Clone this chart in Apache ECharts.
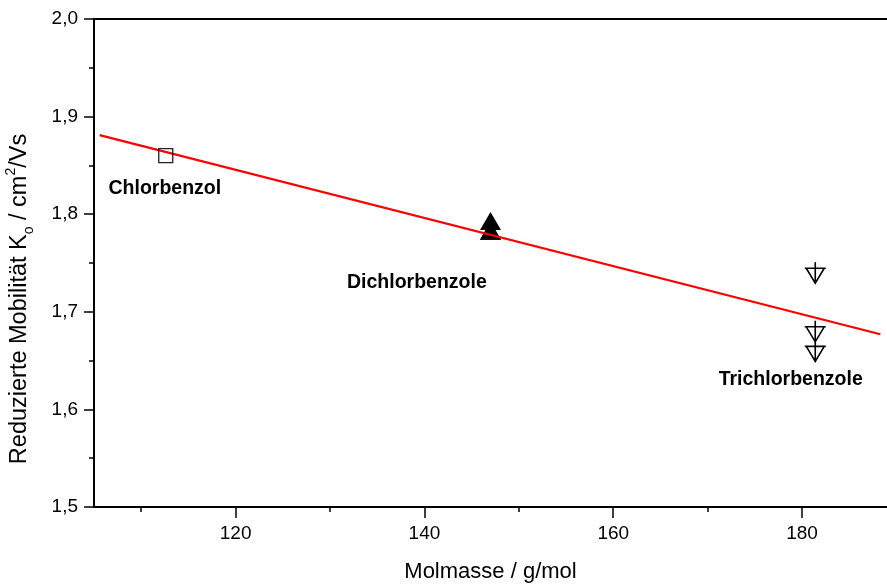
<!DOCTYPE html>
<html>
<head>
<meta charset="utf-8">
<script src="https://cdn.jsdelivr.net/npm/echarts@6/dist/echarts.min.js"></script>
<style>
html,body{margin:0;padding:0;background:#fff;}
#chart{width:887px;height:585px;}
</style>
</head>
<body>
<div id="chart"></div>
<script>
// ---- data ----
const xMajorTicks = [120, 140, 160, 180];
const xMinorTicks = [110, 130, 150, 170];
const chlorX = [112.6];
const chlorY = [1.86];
const dichlorX = [147.0, 147.0, 147.0];
const dichlorY = [1.793, 1.783, 1.783];
const trichlorX = [181.4, 181.4, 181.4];
const trichlorY = [1.74, 1.68, 1.66];
const fitX = [105.6, 188.3];
const fitY = [1.881, 1.677];
const labelNames = ['Chlorbenzol', 'Dichlorbenzole', 'Trichlorbenzole'];
const labelX = [112.5, 139.2, 178.8];
const labelY = [1.826, 1.730, 1.631];

const zip = (xs, ys) => xs.map((x, i) => [x, ys[i]]);
const FONT = '"Liberation Sans", Arial, sans-serif';
const fmtDec = v => v.toFixed(1).replace('.', ',');

const chart = echarts.init(document.getElementById('chart'));
const xMin = 105, xMax = 189;
chart.setOption({
  animation: false,
  backgroundColor: '#fff',
  grid: {left: 94, right: 0, top: 19, bottom: 78, containLabel: false, outerBoundsMode: 'none'},
  xAxis: [
    {
      type: 'value', min: xMin, max: xMax, position: 'bottom',
      splitLine: {show: false},
      axisLine: {show: true, lineStyle: {color: '#000', width: 2}},
      axisTick: {show: true, length: 11, lineStyle: {color: '#000', width: 1.5}, customValues: xMajorTicks},
      axisLabel: {color: '#000', fontSize: 19, fontFamily: FONT, margin: 17, customValues: xMajorTicks},
      name: 'Molmasse / g/mol', nameLocation: 'middle', nameGap: 54,
      nameTextStyle: {color: '#000', fontSize: 22, fontFamily: FONT}
    },
    {
      type: 'value', min: xMin, max: xMax, position: 'bottom',
      splitLine: {show: false},
      axisLine: {show: false},
      axisTick: {show: true, length: 5, lineStyle: {color: '#000', width: 1.5}, customValues: xMinorTicks},
      axisLabel: {show: false}
    },
    {
      type: 'value', min: xMin, max: xMax, position: 'top',
      splitLine: {show: false},
      axisLine: {show: true, lineStyle: {color: '#000', width: 2}},
      axisTick: {show: false},
      axisLabel: {show: false}
    }
  ],
  yAxis: {
    type: 'value', min: 1.5, max: 2.0, interval: 0.1,
    splitLine: {show: false},
    axisLine: {show: true, lineStyle: {color: '#000', width: 2}},
    axisTick: {show: true, length: 10, lineStyle: {color: '#000', width: 1.5}},
    minorTick: {show: true, splitNumber: 2, length: 5, lineStyle: {color: '#000', width: 1.5}},
    axisLabel: {color: '#000', fontSize: 19, fontFamily: FONT, margin: 16, formatter: fmtDec}
  },
  graphic: [{
    type: 'text',
    x: 20, y: 299,
    rotation: Math.PI / 2,
    style: {
      text: '{a|Reduzierte Mobilität K}{sub|o}{a| / cm}{sup|2}{a|/Vs}',
      align: 'center', verticalAlign: 'middle',
      fill: '#000',
      rich: {
        a: {fontSize: 23.5, fontFamily: FONT, lineHeight: 32, verticalAlign: 'middle', fill: '#000'},
        sub: {fontSize: 14, fontFamily: FONT, lineHeight: 15, verticalAlign: 'bottom', fill: '#000'},
        sup: {fontSize: 14, fontFamily: FONT, lineHeight: 15, verticalAlign: 'top', fill: '#000'}
      }
    }
  }],
  series: [
    {
      type: 'line', data: zip(fitX, fitY), showSymbol: false, silent: true,
      lineStyle: {color: '#ff0000', width: 2.2}, z: 3
    },
    {
      type: 'scatter', data: zip(chlorX, chlorY), symbol: 'rect', symbolSize: 14,
      itemStyle: {color: 'rgba(255,255,255,0)', borderColor: '#222', borderWidth: 1.3, opacity: 1}, z: 4
    },
    {
      type: 'scatter', data: zip(dichlorX, dichlorY), symbol: 'triangle', symbolSize: [21, 18],
      itemStyle: {color: '#000', opacity: 1}, z: 2
    },
    {
      type: 'scatter', data: zip(trichlorX, trichlorY),
      symbol: 'path://M10.5,0 L10.5,21 M0,6 L21,6 M1.5,6 L19.5,6 L10.5,21 Z',
      symbolSize: [21, 21],
      itemStyle: {color: 'rgba(255,255,255,0)', borderColor: '#000', borderWidth: 1.6, opacity: 1}, z: 4
    },
    {
      type: 'scatter', data: labelNames.map((n, i) => [labelX[i], labelY[i], n]),
      symbolSize: 0, silent: true,
      itemStyle: {opacity: 1},
      label: {
        show: true, position: 'inside', formatter: p => p.data[2], opacity: 1,
        color: '#000', fontSize: 19.5, fontWeight: 'bold', fontFamily: FONT,
        textBorderWidth: 0
      }
    }
  ]
});
</script>
</body>
</html>
